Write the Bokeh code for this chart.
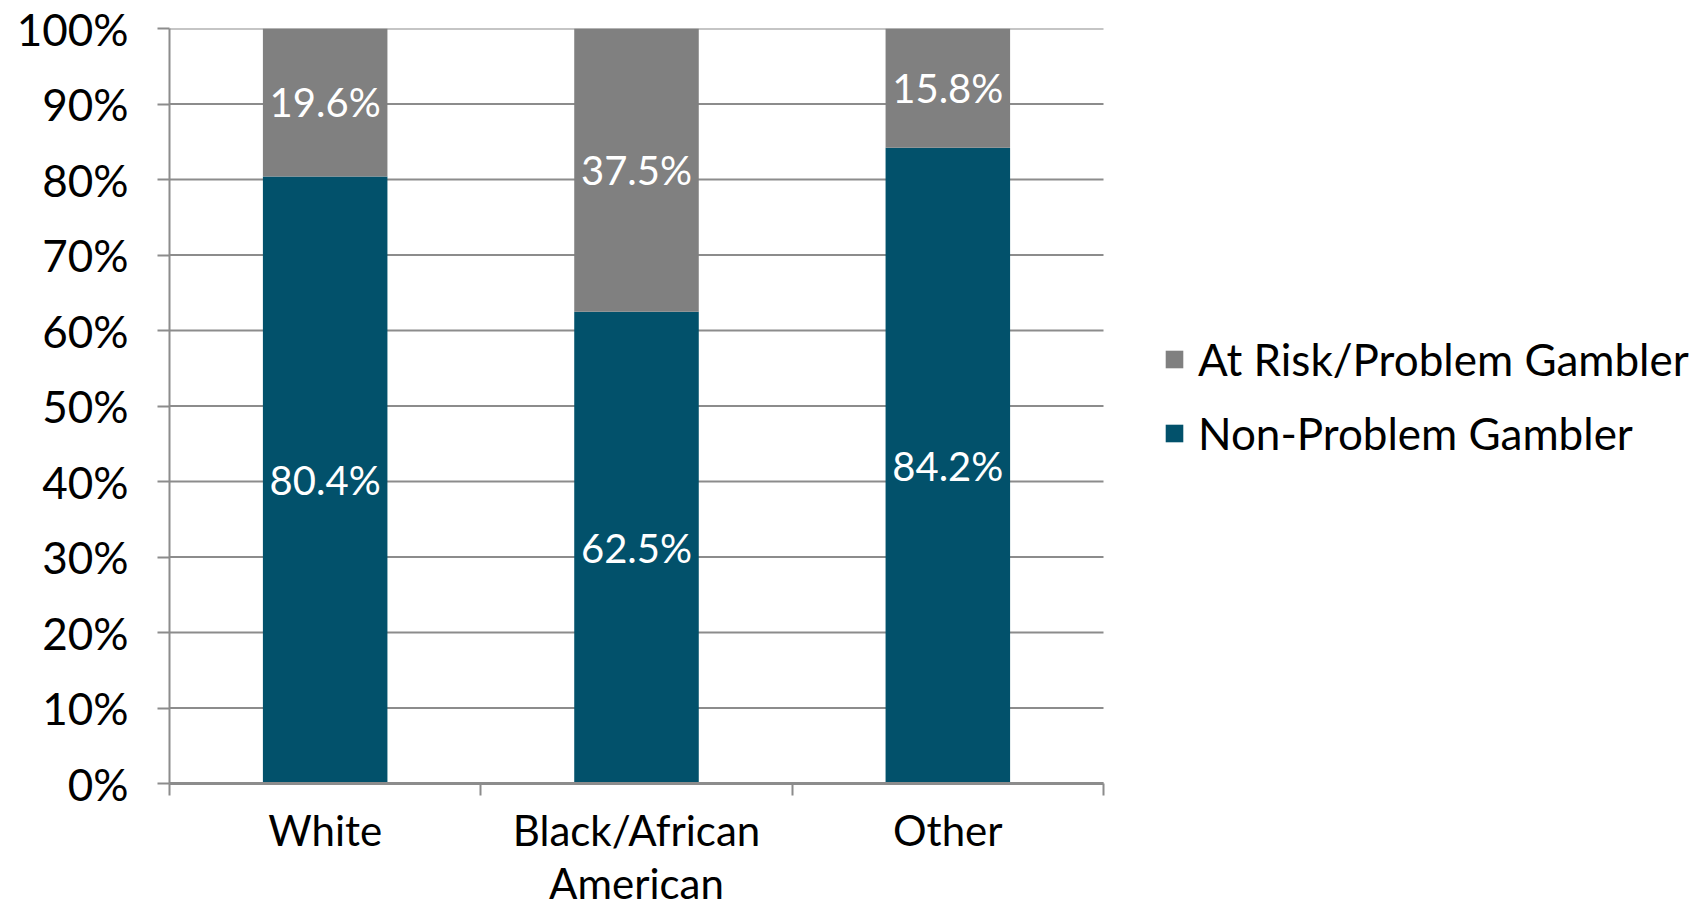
from bokeh.plotting import figure
from bokeh.models import (ColumnDataSource, FixedTicker, NumeralTickFormatter,
                          Legend, LegendItem, LabelSet, Range1d)
from bokeh.core.properties import value
from bokeh.embed import file_html
from bokeh.resources import INLINE

categories = ["White", "Black/African\nAmerican", "Other"]
non_problem = [0.804, 0.625, 0.842]
at_risk = [0.196, 0.375, 0.158]
y_ticks = [0.0, 0.1, 0.2, 0.3, 0.4, 0.5, 0.6, 0.7, 0.8, 0.9, 1.0]

TEAL = "#02516B"
GRAY = "#808080"
LINE = "#8C8C8C"
FONT = "Lato"

W, H = 1707, 910
LEFT, TOP, BOTTOM = 169, 28, 127
PLOT_W = 934  # pixel width of the category area

n = len(categories)
xs = [i + 0.5 for i in range(n)]
x_end = n * (W - LEFT) / PLOT_W

src = ColumnDataSource(dict(
    x=xs,
    non=non_problem,
    risk=at_risk,
    non_mid=[v / 2 for v in non_problem],
    risk_mid=[a + b / 2 for a, b in zip(non_problem, at_risk)],
    non_lbl=[f"{v*100:.1f}%" for v in non_problem],
    risk_lbl=[f"{v*100:.1f}%" for v in at_risk],
))
grid_src = ColumnDataSource(dict(y=y_ticks, x0=[0] * len(y_ticks), x1=[n] * len(y_ticks)))

p = figure(width=W, height=H, output_backend="svg", toolbar_location=None,
           x_range=Range1d(0, x_end), y_range=Range1d(0, 1))
p.min_border_left = LEFT
p.min_border_top = TOP
p.min_border_right = 0
p.min_border_bottom = BOTTOM
p.outline_line_color = None
p.background_fill_color = "white"
p.border_fill_color = "white"

p.xgrid.grid_line_color = None
p.ygrid.grid_line_color = None
p.segment(x0="x0", x1="x1", y0="y", y1="y", source=grid_src,
          line_color=LINE, line_width=2)

r = p.vbar_stack(["non", "risk"], x="x", width=0.4, source=src,
                 color=[TEAL, GRAY], line_color=None)

# axes
p.yaxis.ticker = FixedTicker(ticks=y_ticks)
p.yaxis.formatter = NumeralTickFormatter(format="0%")
p.yaxis.major_tick_out = 12
p.yaxis.major_tick_in = 0
p.yaxis.minor_tick_line_color = None
p.yaxis.axis_line_color = LINE
p.yaxis.axis_line_width = 2
p.yaxis.major_tick_line_color = LINE
p.yaxis.major_tick_line_width = 2
p.yaxis.major_label_text_font = FONT
p.yaxis.major_label_text_font_size = "44px"
p.yaxis.major_label_text_color = "black"
p.yaxis.major_label_standoff = 29

p.xaxis.bounds = (0, n)
p.xaxis.ticker = FixedTicker(ticks=xs, minor_ticks=list(range(n + 1)))
p.xaxis.major_label_overrides = {x: c for x, c in zip(xs, categories)}
p.xaxis.major_tick_line_color = None
p.xaxis.major_tick_out = 0
p.xaxis.major_tick_in = 0
p.xaxis.minor_tick_out = 12
p.xaxis.minor_tick_in = 0
p.xaxis.minor_tick_line_color = LINE
p.xaxis.minor_tick_line_width = 2
p.xaxis.axis_line_color = LINE
p.xaxis.axis_line_width = 3
p.xaxis.major_label_text_font = FONT
p.xaxis.major_label_text_font_size = "42px"
p.xaxis.major_label_text_color = "black"
p.xaxis.major_label_text_line_height = 1.06
p.xaxis.major_label_text_baseline = "hanging"
p.xaxis.major_label_standoff = 9

for col_y, col_t in (("non_mid", "non_lbl"), ("risk_mid", "risk_lbl")):
    p.add_layout(LabelSet(x="x", y=col_y, text=col_t, source=src,
                          text_align="center", text_baseline="middle",
                          text_color="white", text_font=value(FONT),
                          text_font_size="40px"))

legend = Legend(items=[
    LegendItem(label="At Risk/Problem Gambler", renderers=[r[1]]),
    LegendItem(label="Non-Problem Gambler", renderers=[r[0]]),
], location=(994, 324))
legend.border_line_color = None
legend.background_fill_alpha = 0
legend.padding = 0
legend.margin = 0
legend.glyph_width = 22
legend.glyph_height = 22
legend.label_standoff = 13
legend.spacing = 22
legend.label_text_font = FONT
legend.label_text_font_size = "44px"
legend.label_text_color = "black"
p.add_layout(legend, "center")

open("out.html", "w").write(file_html(p, INLINE))
